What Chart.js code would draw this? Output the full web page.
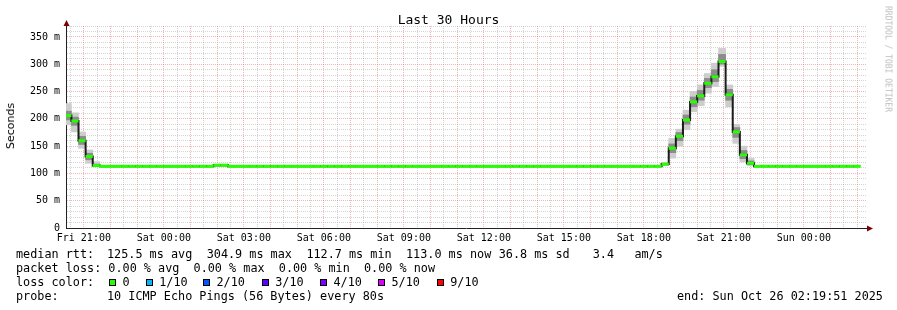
<!DOCTYPE html>
<html>
<head>
<meta charset="utf-8">
<script src="https://cdn.jsdelivr.net/npm/chart.js@4.4.1/dist/chart.umd.min.js"></script>
<style>
  html, body { margin:0; padding:0; background:#ffffff; }
  #wrap { position:relative; width:897px; height:310px; overflow:hidden; background:#ffffff; }
  #chart { position:absolute; left:0; top:0; }
  .txt { position:absolute; white-space:pre; font-family:"DejaVu Sans Mono", monospace; color:#000; }
  #title { left:0; width:897px; top:12px; text-align:center; font-size:13px; line-height:15px; }
  #ylabel { font-family:"DejaVu Sans", sans-serif; font-size:11px; line-height:12px; left:11px; top:126px; transform:translate(-50%,-50%) rotate(-90deg); }
  #wm { font-size:8px; line-height:9px; color:#bdbdbd; left:888px; top:59px; transform:translate(-50%,-50%) rotate(90deg); }
  .leg { font-size:11.8px; line-height:14px; }
  .box { position:absolute; width:5px; height:5px; border:1px solid #000; top:279px; }
</style>
</head>
<body>
<div id="wrap">
  <canvas id="chart" width="897" height="310"></canvas>
  <div class="txt" id="title">Last 30 Hours</div>
  <div class="txt" id="ylabel">Seconds</div>
  <div class="txt" id="wm">RRDTOOL / TOBI OETIKER</div>

  <div class="txt leg" style="left:16px;top:247px">median rtt:</div>
  <div class="txt leg" style="left:107px;top:247px">125.5 ms avg</div>
  <div class="txt leg" style="left:206.7px;top:247px">304.9 ms max</div>
  <div class="txt leg" style="left:306.4px;top:247px">112.7 ms min</div>
  <div class="txt leg" style="left:406px;top:247px">113.0 ms now</div>
  <div class="txt leg" style="left:498.7px;top:247px">36.8 ms sd</div>
  <div class="txt leg" style="left:592.7px;top:247px">3.4</div>
  <div class="txt leg" style="left:634.4px;top:247px">am/s</div>

  <div class="txt leg" style="left:16px;top:261px">packet loss: 0.00 % avg  0.00 % max  0.00 % min  0.00 % now</div>

  <div class="txt leg" style="left:16px;top:275px">loss color:</div>
  <div id="lossItems"></div>

  <div class="txt leg" style="left:16px;top:289px">probe:</div>
  <div class="txt leg" style="left:107px;top:289px">10 ICMP Echo Pings (56 Bytes) every 80s</div>
  <div class="txt leg" style="left:677px;top:289px">end: Sun Oct 26 02:19:51 2025</div>
</div>
<script>
// ---------------- data ----------------
// time is expressed in minutes after Fri 00:00
const startMinute = 1219.85;      // Fri 20:19:51
const endMinute = 3019.85;        // Sun 02:19:51
const firstBucketCentre = 1224;   // first 16-minute consolidation bucket (Fri 20:16-20:32)
const bucketMinutes = 16;

// median round trip time per bucket (ms)
const medianRtt = [
  206, 196, 160, 131, 114.5,
  113, 113, 113, 113, 113, 113, 113, 113, 113, 113, 113, 113, 113, 113, 113, 113,
  115, 115,
  113, 113, 113, 113, 113, 113, 113, 113, 113, 113, 113, 113, 113, 113, 113, 113,
  113, 113, 113, 113, 113, 113, 113, 113, 113, 113, 113, 113, 113, 113, 113, 113,
  113, 113, 113, 113, 113, 113, 113, 113, 113, 113, 113, 113, 113, 113, 113, 113,
  113, 113, 113, 113, 113, 113, 113, 113, 113, 113, 113, 113, 113,
  117, 146, 168, 198, 231, 242, 265, 277, 305, 244, 176, 134, 118.5,
  113, 113, 113, 113, 113, 113, 113, 113, 113, 113, 113, 113, 113, 113, 113
];

// smoke (spread of the individual pings) for the buckets where it is visible
const smokeBuckets = [0, 1, 2, 3, 4, 21, 22, 84, 85, 86, 87, 88, 89, 90, 91, 92, 93, 94, 95, 96];
const smokeMin  = [189, 176, 146, 118.5, 112.3, 113.5, 113.5, 114, 128, 150, 180, 213, 224, 247, 259, 296, 222, 155, 121, 114];
const smokeLow  = [198, 188, 153, 125, 113, 114, 114, 115.5, 138, 160, 190, 222, 234, 257, 268, 300, 234, 166, 127, 116];
const smokeHigh = [214, 203, 168, 137, 117, 116, 116, 118.5, 154, 175, 207, 240, 252, 274, 290, 318, 254, 184, 142, 123];
const smokeMax  = [228, 211, 176, 143, 121.5, 117, 117, 120, 164, 181, 216, 250, 262, 283, 302, 329, 262, 190, 150, 128];

// axis labels
const xLabelMinutes = [1260, 1440, 1620, 1800, 1980, 2160, 2340, 2520, 2700, 2880];
const xTickLabels = ['Fri 21:00', 'Sat 00:00', 'Sat 03:00', 'Sat 06:00', 'Sat 09:00',
                     'Sat 12:00', 'Sat 15:00', 'Sat 18:00', 'Sat 21:00', 'Sun 00:00'];
const yLabelValues = [0, 50, 100, 150, 200, 250, 300, 350];
const yTickLabels = ['0', '50 m', '100 m', '150 m', '200 m', '250 m', '300 m', '350 m'];
const yMax = 370;

// loss colour legend
const lossLabels = ['0', '1/10', '2/10', '3/10', '4/10', '5/10', '9/10'];
const lossColors = ['#26ff00', '#00b8ff', '#0059ff', '#5e00ff', '#7e00ff', '#dd00ff', '#ff0000'];

// ---------------- legend boxes ----------------
(function () {
  const holder = document.getElementById('lossItems');
  const boxLeft = [109, 145.7, 203, 261.7, 320, 378, 436.7];
  lossLabels.forEach((lab, i) => {
    const b = document.createElement('div');
    b.className = 'box';
    b.style.left = boxLeft[i] + 'px';
    b.style.background = lossColors[i];
    holder.appendChild(b);
    const t = document.createElement('div');
    t.className = 'txt leg';
    t.style.left = (boxLeft[i] + 13.5) + 'px';
    t.style.top = '275px';
    t.textContent = lab;
    holder.appendChild(t);
  });
})();

// ---------------- chart ----------------
const bucketTime = medianRtt.map((_, k) => firstBucketCentre + bucketMinutes * k);
const medianPts = medianRtt.map((v, k) => ({ x: bucketTime[k], y: v }));
const outerSmoke = smokeBuckets.map((k, i) => ({ x: bucketTime[k], y: [smokeMin[i], smokeMax[i]] }));
const innerSmoke = smokeBuckets.map((k, i) => ({ x: bucketTime[k], y: [smokeLow[i], smokeHigh[i]] }));

const xGrid = [];
for (let m = 1230; m < endMinute; m += 30) xGrid.push(m);
const yGrid = [];
for (let v = 0; v <= yMax; v += 10) yGrid.push(v);

const minorGrid = 'rgba(143,143,143,0.38)';
const majorGrid = 'rgba(222,79,79,0.42)';
const axisColor = '#222222';

const axisArrows = {
  id: 'axisArrows',
  afterDraw(chart) {
    const { ctx, chartArea: a } = chart;
    ctx.save();
    ctx.fillStyle = '#800000';
    const lx = Math.floor(a.left) + 0.5;
    ctx.beginPath();
    ctx.moveTo(lx, a.top - 6);
    ctx.lineTo(lx - 3, a.top);
    ctx.lineTo(lx + 3, a.top);
    ctx.closePath();
    ctx.fill();
    const by = Math.floor(a.bottom) + 0.5;
    ctx.beginPath();
    ctx.moveTo(a.right + 7, by);
    ctx.lineTo(a.right + 1, by - 3);
    ctx.lineTo(a.right + 1, by + 3);
    ctx.closePath();
    ctx.fill();
    ctx.strokeStyle = axisColor;
    ctx.lineWidth = 1;
    ctx.beginPath();
    ctx.moveTo(a.right, by);
    ctx.lineTo(a.right + 2, by);
    ctx.stroke();
    ctx.restore();
  }
};

new Chart(document.getElementById('chart'), {
  type: 'line',
  data: {
    datasets: [
      { type: 'line', label: 'median', data: medianPts, showLine: false,
        pointStyle: 'line', pointRadius: 3.6, pointHoverRadius: 3.6, pointBorderWidth: 3,
        pointBorderColor: '#26ff00', pointBackgroundColor: '#26ff00', order: 0, clip: 0 },
      { type: 'line', label: 'median step', data: medianPts, stepped: 'middle',
        borderColor: '#1c1c1c', borderWidth: 2, pointRadius: 0, fill: false, order: 1, clip: 0 },
      { type: 'bar', label: 'smoke inner', data: innerSmoke, backgroundColor: '#8c8c8c',
        borderWidth: 0, grouped: false, barPercentage: 1, categoryPercentage: 1, order: 2 },
      { type: 'bar', label: 'smoke outer', data: outerSmoke, backgroundColor: '#cdcdcd',
        borderWidth: 0, grouped: false, barPercentage: 1, categoryPercentage: 1, order: 3 }
    ]
  },
  options: {
    responsive: false,
    animation: false,
    devicePixelRatio: 1,
    events: [],
    layout: { padding: { top: 26, right: 31, bottom: 62, left: 0 } },
    plugins: { legend: { display: false }, tooltip: { enabled: false }, title: { display: false } },
    scales: {
      x: {
        type: 'linear', min: startMinute, max: endMinute, bounds: 'data', offset: false,
        afterBuildTicks: s => { s.ticks = xGrid.map(v => ({ value: v })); },
        afterFit: s => { s.height = 20; },
        ticks: {
          autoSkip: false, maxRotation: 0, minRotation: 0, padding: 2, color: '#000',
          font: { family: 'DejaVu Sans Mono', size: 10 },
          callback: v => { const i = xLabelMinutes.indexOf(v); return i >= 0 ? xTickLabels[i] : ''; }
        },
        grid: {
          offset: false, lineWidth: 1, drawTicks: true, tickLength: 2, tickColor: 'rgba(0,0,0,0)',
          color: c => (c.tick && c.tick.value % 60 === 0) ? majorGrid : minorGrid
        },
        border: { display: true, color: axisColor, width: 1, dash: [1, 1] }
      },
      y: {
        type: 'linear', position: 'left', min: 0, max: yMax, bounds: 'data',
        afterBuildTicks: s => { s.ticks = yGrid.map(v => ({ value: v })); },
        afterFit: s => { s.width = 66; },
        ticks: {
          autoSkip: false, padding: 3, color: '#000',
          font: { family: 'DejaVu Sans Mono', size: 10 },
          callback: v => { const i = yLabelValues.indexOf(v); return i >= 0 ? yTickLabels[i] : ''; }
        },
        grid: {
          lineWidth: 1, drawTicks: true, tickLength: 3, tickColor: 'rgba(0,0,0,0)',
          color: c => {
            const v = c.tick ? c.tick.value : -1;
            if (v === 0) return 'rgba(0,0,0,0)';
            return v % 50 === 0 ? majorGrid : minorGrid;
          }
        },
        border: { display: true, color: axisColor, width: 1, dash: [1, 1] }
      }
    }
  },
  plugins: [axisArrows]
});
</script>
</body>
</html>
